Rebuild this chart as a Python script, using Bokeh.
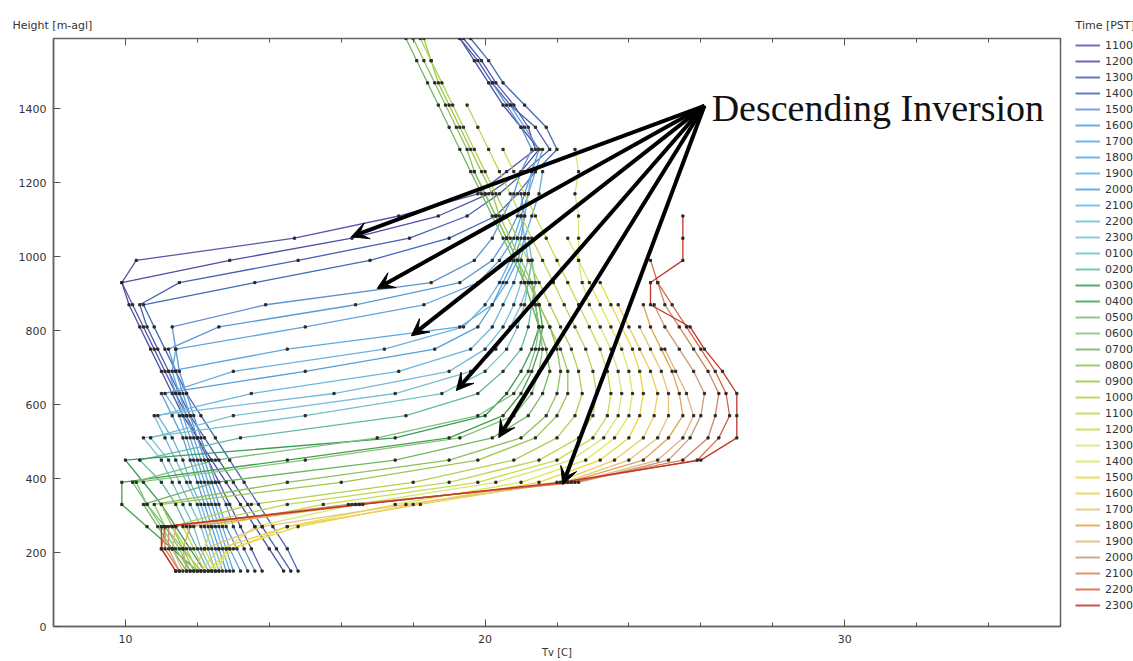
import numpy as np
from bokeh.plotting import figure
from bokeh.layouts import row
from bokeh.models import (ColumnDataSource, Legend, LegendItem, LinearAxis, SingleIntervalTicker,
                          Arrow, VeeHead, Label, Range1d, CustomJSTickFormatter)
from bokeh.embed import file_html
from bokeh.resources import INLINE

# ---------------- data ----------------
heights = [150, 210, 270, 330, 390, 450, 510, 570, 630, 690, 750, 810, 870,
           930, 990, 1050, 1110, 1170, 1230, 1290, 1350, 1410, 1470, 1530, 1590]

time_labels = ["1100", "1200", "1300", "1400", "1500", "1600", "1700", "1800", "1900",
               "2000", "2100", "2200", "2300", "0100", "0200", "0300", "0400", "0500",
               "0600", "0700", "0800", "0900", "1000", "1100", "1200", "1300", "1400",
               "1500", "1600", "1700", "1800", "1900", "2000", "2100", "2200", "2300"]

N = None
tv_d1_1100 = [13.8, 13.5, 13.2, 12.9, 12.6, 12.3, 12.0, 11.7, 11.4, 11.1, 10.8, 10.5, 10.2, 9.9, 10.3, 14.7, 17.6, 19.8, 20.6, 21.4, 21.2, 20.8, 20.3, 19.9, 19.4]
tv_d1_1200 = [14.4, 14.0, 13.6, 13.2, 12.8, 12.4, 12.0, 11.6, 11.3, 11.0, 10.7, 10.4, 10.1, 9.9, 12.9, 16.3, 18.7, 20.1, 21.0, 21.5, 21.0, 20.5, 20.1, 19.7, 19.3]
tv_d1_1300 = [14.6, 14.2, 13.8, 13.4, 13.0, 12.6, 12.2, 11.8, 11.5, 11.2, 10.9, 10.6, 10.4, 11.5, 14.8, 17.9, 19.5, 20.4, 21.1, 21.8, 21.4, 20.7, 20.2, 19.8, 19.3]
tv_d1_1400 = [14.8, 14.5, 14.1, 13.7, 13.3, 12.9, 12.5, 12.1, 11.7, 11.4, 11.1, 10.8, 10.5, 13.6, 16.8, 19.0, 20.3, 20.9, 21.4, 22.0, 21.7, 21.1, 20.5, 20.1, 19.6]
tv_d1_1500 = [13.6, 13.3, 13.0, 12.8, 12.5, 12.3, 12.1, 11.9, 11.7, 11.5, 11.4, 11.3, 13.9, 18.5, 19.7, 20.2, 20.5, 20.8, 21.0, 21.3, 21.0, 20.6, 20.2, N, N]
tv_d1_1600 = [13.4, 13.1, 12.8, 12.6, 12.4, 12.2, 12.0, 11.8, 11.6, 11.4, 11.2, 12.6, 16.4, 19.3, 20.2, 20.6, 20.9, 21.1, 21.3, 21.5, 21.1, 20.7, N, N, N]
tv_d1_1700 = [13.2, 12.9, 12.7, 12.5, 12.3, 12.1, 11.9, 11.7, 11.5, 11.3, 11.4, 15.0, 18.3, 19.8, 20.4, 20.8, 21.0, 21.2, 21.4, 21.6, N, N, N, N, N]
tv_d1_1800 = [13.0, 12.8, 12.6, 12.4, 12.2, 12.0, 11.8, 11.6, 11.4, 11.2, 14.5, 19.3, 20.2, 20.6, 20.9, 21.1, 21.3, 21.5, 21.6, N, N, N, N, N, N]
tv_d1_1900 = [12.9, 12.7, 12.5, 12.3, 12.1, 11.9, 11.7, 11.5, 11.1, 13.0, 17.2, 19.4, 20.0, 20.4, 20.7, 20.9, 21.1, 21.2, 21.3, N, N, N, N, N, N]
tv_d1_2000 = [12.8, 12.6, 12.4, 12.2, 12.0, 11.8, 11.6, 11.3, 11.0, 15.0, 18.6, 19.8, 20.2, 20.5, 20.8, 21.0, 21.1, 21.0, N, N, N, N, N, N, N]
tv_d1_2100 = [12.7, 12.5, 12.3, 12.1, 11.8, 11.6, 11.3, 10.9, 13.5, 17.6, 19.6, 20.2, 20.5, 20.8, 21.0, 21.1, 21.0, N, N, N, N, N, N, N, N]
tv_d1_2200 = [12.6, 12.4, 12.2, 12.0, 11.7, 11.4, 11.1, 10.8, 15.8, 19.0, 20.0, 20.5, 20.8, 21.0, 21.2, 21.1, N, N, N, N, N, N, N, N, N]
tv_d1_2300 = [12.5, 12.3, 12.1, 11.8, 11.5, 11.2, 10.7, 13.0, 17.5, 19.6, 20.3, 20.7, 21.0, 21.2, 21.3, N, N, N, N, N, N, N, N, N, N]
tv_d2_0100 = [12.4, 12.1, 11.9, 11.6, 11.3, 11.0, 10.5, 15.0, 18.8, 20.0, 20.6, 20.9, 21.1, 21.2, 21.3, 21.2, N, N, N, N, N, N, N, N, N]
tv_d2_0200 = [12.3, 12.0, 11.7, 11.4, 11.0, 10.4, 13.2, 17.8, 19.8, 20.5, 21.0, 21.2, 21.3, 21.4, 21.3, N, N, N, N, N, N, N, N, N, N]
tv_d2_0300 = [12.2, 11.8, 11.4, 11.0, 10.5, 10.0, 17.5, 20.0, 20.6, 21.0, 21.3, 21.5, 21.4, 21.3, N, N, N, N, N, N, N, N, N, N, N]
tv_d2_0400 = [12.0, 11.3, 10.6, 9.9, 9.9, 14.5, 19.0, 20.5, 21.0, 21.3, 21.5, 21.6, 21.5, N, N, N, N, N, N, N, N, N, N, N, N]
tv_d2_0500 = [12.1, 11.6, 11.1, 10.6, 10.2, 12.5, 17.0, 19.8, 20.8, 21.2, 21.4, 21.5, 21.4, 21.3, N, N, N, N, N, N, N, N, N, N, N]
tv_d2_0600 = [11.8, 11.4, 11.0, 10.6, 10.3, 15.0, 19.3, 20.8, 21.3, 21.5, 21.6, 21.5, 21.3, 21.1, 20.9, 20.6, 20.3, 20.0, 19.7, N, N, N, N, N, N]
tv_d2_0700 = [11.7, 11.3, 10.9, 10.5, 12.5, 17.5, 20.2, 21.2, 21.6, 21.8, 21.7, 21.5, 21.3, 21.1, 20.8, 20.5, 20.2, 19.9, 19.6, 19.3, 19.0, 18.7, 18.4, 18.1, 17.8]
tv_d2_0800 = [11.8, 11.5, 11.1, 10.8, 14.5, 19.0, 21.0, 21.7, 22.0, 22.1, 22.0, 21.8, 21.5, 21.2, 20.9, 20.6, 20.3, 20.0, 19.7, 19.5, 19.2, 18.9, 18.6, 18.3, 18.0]
tv_d2_0900 = [11.9, 11.6, 11.3, 11.0, 16.0, 19.8, 21.4, 22.0, 22.3, 22.3, 22.1, 21.8, 21.5, 21.3, 21.0, 20.7, 20.4, 20.2, 19.9, 19.6, 19.3, 19.0, 18.7, 18.5, 18.3]
tv_d2_1000 = [12.0, 11.7, 11.3, 13.5, 18.0, 20.8, 22.0, 22.5, 22.7, 22.6, 22.4, 22.1, 21.8, 21.5, 21.2, 20.9, 20.6, 20.3, 20.0, 19.7, 19.4, 19.1, 18.8, 18.5, 18.2]
tv_d2_1100 = [12.2, 11.9, 11.6, 14.5, 19.0, 21.5, 22.6, 23.0, 23.1, 23.0, 22.8, 22.5, 22.2, 21.9, 21.6, 21.3, 21.0, 20.7, 20.4, 20.1, 19.8, 19.5, N, N, N]
tv_d2_1200 = [12.5, 12.2, 12.4, 15.5, 19.8, 22.0, 23.0, 23.4, 23.5, 23.4, 23.2, 22.9, 22.6, 22.3, 22.0, 21.7, 21.4, 21.1, 20.8, 20.5, N, N, N, N, N]
tv_d2_1300 = [12.6, 12.8, 13.6, 16.4, 20.3, 22.4, 23.3, 23.7, 23.8, 23.7, 23.5, 23.2, 22.9, 22.7, 22.6, 22.6, 22.6, 22.5, 22.6, 22.5, N, N, N, N, N]
tv_d2_1400 = [12.4, 13.0, 14.5, 17.5, 21.0, 22.8, 23.6, 24.0, 24.1, 24.0, 23.8, 23.5, 23.2, 22.9, 22.6, 22.3, N, N, N, N, N, N, N, N, N]
tv_d2_1500 = [12.3, 12.9, 14.8, 18.0, 21.5, 23.2, 24.0, 24.3, 24.4, 24.3, 24.1, 23.8, 23.5, 23.2, N, N, N, N, N, N, N, N, N, N, N]
tv_d2_1600 = [12.1, 12.6, 14.5, 18.2, 22.0, 23.6, 24.4, 24.7, 24.8, 24.6, 24.3, 24.0, 23.7, N, N, N, N, N, N, N, N, N, N, N, N]
tv_d2_1700 = [11.9, 12.2, 13.8, 17.8, 22.2, 24.0, 24.8, 25.1, 25.1, 24.9, 24.6, 24.3, N, N, N, N, N, N, N, N, N, N, N, N, N]
tv_d2_1800 = [11.7, 11.6, 11.8, 16.5, 22.3, 24.4, 25.1, 25.5, 25.4, 25.2, 24.9, 24.6, 24.4, N, N, N, N, N, N, N, N, N, N, N, N]
tv_d2_1900 = [11.6, 11.3, 11.4, 16.3, 22.5, 24.8, 25.5, 25.8, 25.6, 25.3, 25.0, N, N, N, N, N, N, N, N, N, N, N, N, N, N]
tv_d2_2000 = [11.5, 11.2, 11.2, 16.2, 22.6, 25.1, 25.7, 26.0, 26.1, 25.8, 25.4, 25.0, 24.7, N, N, N, N, N, N, N, N, N, N, N, N]
tv_d2_2100 = [11.5, 11.1, 11.1, 16.4, 22.4, 25.5, 26.2, 26.4, 26.5, 26.2, 25.8, 25.4, 25.0, 24.8, N, N, N, N, N, N, N, N, N, N, N]
tv_d2_2200 = [11.4, 11.0, 11.1, 16.5, 22.3, 25.9, 26.5, 26.8, 26.7, 26.4, 26.0, 25.6, 25.2, 24.8, 24.6, N, N, N, N, N, N, N, N, N, N]
tv_d2_2300 = [11.4, 11.0, 11.0, 16.6, 22.1, 26.0, 27.0, 27.0, 27.0, 26.6, 26.1, 25.7, 24.6, 24.6, 25.5, 25.5, 25.5, N, N, N, N, N, N, N, N]

profiles = [tv_d1_1100, tv_d1_1200, tv_d1_1300, tv_d1_1400, tv_d1_1500, tv_d1_1600,
            tv_d1_1700, tv_d1_1800, tv_d1_1900, tv_d1_2000, tv_d1_2100, tv_d1_2200,
            tv_d1_2300, tv_d2_0100, tv_d2_0200, tv_d2_0300, tv_d2_0400, tv_d2_0500,
            tv_d2_0600, tv_d2_0700, tv_d2_0800, tv_d2_0900, tv_d2_1000, tv_d2_1100,
            tv_d2_1200, tv_d2_1300, tv_d2_1400, tv_d2_1500, tv_d2_1600, tv_d2_1700,
            tv_d2_1800, tv_d2_1900, tv_d2_2000, tv_d2_2100, tv_d2_2200, tv_d2_2300]

line_colors = ["#5b56a8", "#4b4fa6", "#4a60b2", "#3f6bb8", "#5f93d2", "#5a9ad8", "#64a4de",
               "#5ea8e0", "#6db0e2", "#559fd8", "#6cb6e0", "#76bade", "#7dbfd8", "#74c2c4",
               "#66b8a2", "#3a9a58", "#45a04c", "#7cc07a", "#86c47c", "#72b660", "#8ec05c",
               "#9cc64c", "#b2d04c", "#bed658", "#c8dc4e", "#d8e678", "#dfe75a", "#ead83c",
               "#f0cc58", "#e6c474", "#dca44c", "#e4b482", "#c89a7a", "#d0845a", "#d66444",
               "#c03626"]

# annotation arrows (data units)
arrow_start_tv = 26.1
arrow_start_h = 1408
arrow_end_tv = [16.28, 17.0, 17.95, 19.2, 20.38, 22.16]
arrow_end_h = [1054, 914, 786, 638, 511, 384]
annotation_text = "Descending Inversion"

# ---------------- main figure ----------------
FONT = "DejaVu Sans"
p = figure(width=1068, height=661, output_backend="svg", toolbar_location=None,
           x_range=Range1d(8, 36), y_range=Range1d(0, 1590),
           min_border_left=53, min_border_right=8, min_border_top=38, min_border_bottom=35,
           title="Height [m-agl]")
p.grid.visible = False
p.background_fill_color = "white"
p.border_fill_color = "white"
p.outline_line_color = "#666666"
p.outline_line_width = 1.5

p.title.align = "left"
p.title.offset = -41
p.title.text_font = FONT
p.title.text_font_size = "11px"
p.title.text_font_style = "normal"
p.title.text_color = "#333333"
p.title.standoff = 14

p.xaxis.ticker = SingleIntervalTicker(interval=10, num_minor_ticks=5)
p.yaxis.ticker = SingleIntervalTicker(interval=200, num_minor_ticks=0)
p.xaxis.axis_label = "Tv [C]"
p.xaxis.axis_label_standoff = 1
p.xaxis.axis_label_text_font = FONT
p.xaxis.axis_label_text_font_size = "10px"
p.xaxis.axis_label_text_font_style = "normal"
p.xaxis.axis_label_text_color = "#333333"
for ax in (p.xaxis[0], p.yaxis[0]):
    ax.axis_line_color = "#666666"
    ax.axis_line_width = 1.5
    ax.major_tick_line_color = "#555555"
    ax.minor_tick_line_color = "#555555"
    ax.major_tick_in = 7
    ax.major_tick_out = 0
    ax.minor_tick_in = 4
    ax.minor_tick_out = 0
    ax.major_label_text_font = FONT
    ax.major_label_text_font_size = "11px"
    ax.major_label_text_color = "#333333"
p.xaxis.major_label_standoff = 8
p.yaxis.major_label_standoff = 7

top_axis = LinearAxis(ticker=SingleIntervalTicker(interval=10, num_minor_ticks=5),
                      formatter=CustomJSTickFormatter(code="return ''"),
                      axis_line_color=None, major_tick_in=7, major_tick_out=0,
                      minor_tick_in=4, minor_tick_out=0, major_label_standoff=0,
                      major_label_text_font_size="1px",
                      major_tick_line_color="#555555", minor_tick_line_color="#555555")
p.add_layout(top_axis, "above")

H = np.array(heights, dtype=float)
all_tv, all_h = [], []
for col, prof in zip(line_colors, profiles):
    tv = np.array(prof, dtype=float)
    src = ColumnDataSource(dict(tv=tv, h=H))
    p.line("tv", "h", source=src, line_color=col, line_width=1.3)
    m = ~np.isnan(tv)
    all_tv.extend(tv[m].tolist())
    all_h.extend(H[m].tolist())

p.scatter(x=all_tv, y=all_h, marker="square", size=2.2, color="#2a2a2a")

for xe, ye in zip(arrow_end_tv, arrow_end_h):
    p.add_layout(Arrow(end=VeeHead(size=17, fill_color="black", line_color="black"),
                       x_start=arrow_start_tv, y_start=arrow_start_h, x_end=xe, y_end=ye,
                       line_width=4, line_color="black"))

p.add_layout(Label(x=26.3, y=1403, text=annotation_text, text_font="Liberation Serif",
                   text_font_size="38px", text_baseline="middle", text_align="left",
                   text_color="#111111"))

# ---------------- legend panel ----------------
# the legend panel re-uses the same profiles; its ranges keep them out of view,
# so only the legend samples are seen
lf = figure(width=65, height=661, output_backend="svg", toolbar_location=None,
            x_range=Range1d(0, 1), y_range=Range1d(0, 1), x_axis_type=None, y_axis_type=None,
            min_border=0, title="Time [PST]")
lf.outline_line_color = None
lf.background_fill_color = "white"
lf.border_fill_color = "white"
lf.title.align = "left"
lf.title.offset = 7
lf.title.text_font = FONT
lf.title.text_font_size = "11px"
lf.title.text_font_style = "normal"
lf.title.text_color = "#333333"
lf.title.standoff = 14

items = []
for lab, col, prof in zip(time_labels, line_colors, profiles):
    src = ColumnDataSource(dict(tv=np.array(prof, dtype=float), h=H))
    r = lf.line("tv", "h", source=src, line_color=col, line_width=2, line_alpha=0.85)
    items.append(LegendItem(label=lab, renderers=[r]))

legend = Legend(items=items, location=(7, 14),
                label_text_font=FONT, label_text_font_size="11px", label_text_color="#333333",
                glyph_width=25, glyph_height=14, label_height=14, spacing=2,
                label_standoff=5, padding=5, margin=0,
                border_line_color=None, background_fill_alpha=0)
lf.add_layout(legend, "center")

layout = row(p, lf)
open("out.html", "w").write(file_html(layout, INLINE))
